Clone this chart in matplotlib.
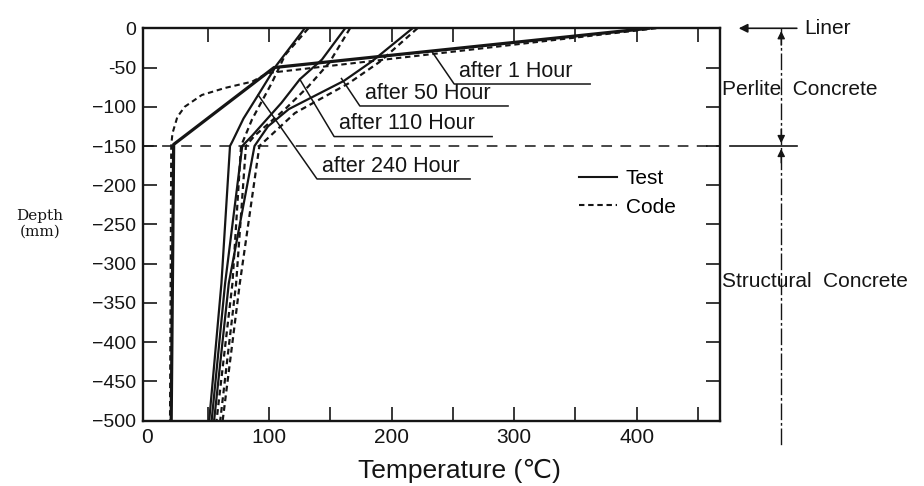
import matplotlib

matplotlib.use("Agg")
import matplotlib.pyplot as plt
from matplotlib.lines import Line2D

plt.rcParams["font.family"] = ["Liberation Sans", "DejaVu Sans"]

# ---- values: temperature (C) vs depth (mm) ----
depth_1h_test = [0, -50, -148, -500]
temp_1h_test = [410, 104, 22, 20]
depth_1h_code = [0, -57, -68, -76, -85, -100, -113, -134, -150, -500]
temp_1h_code = [416, 99, 86, 64, 45, 31, 25, 21, 20, 19]

depth_50h_test = [0, -42, -67, -103, -125, -150, -325, -500]
temp_50h_test = [217, 184, 161, 116, 99, 88, 67, 55]
depth_50h_code = [0, -43, -70, -108, -150, -325, -500]
temp_50h_code = [221, 190, 165, 121, 92, 76, 62]

depth_110h_test = [0, -40, -65, -95, -137, -150, -325, -500]
temp_110h_test = [162, 143, 125, 110, 86, 78, 64, 53]
depth_110h_code = [0, -44, -74, -103, -137, -150, -325, -500]
temp_110h_code = [166, 149, 132, 113, 88, 81, 73, 60]

depth_240h_test = [0, -47, -85, -115, -144, -150, -325, -500]
temp_240h_test = [129, 106, 91, 79, 70, 68, 61, 51]
depth_240h_code = [0, -34, -70, -116, -150, -325, -500]
temp_240h_code = [132, 113, 102, 86, 77, 70, 57]

layer_boundary = -150  # perlite / structural concrete interface

x_major = [0, 100, 200, 300, 400]
x_minor = [50, 150, 250, 350, 450]
y_ticks = [0, -50, -100, -150, -200, -250, -300, -350, -400, -450, -500]
y_labels = ["0", "-50", "\u2212100", "\u2212150", "\u2212200", "\u2212250",
            "\u2212300", "\u2212350", "\u2212400", "\u2212450", "\u2212500"]

# curve labels: text, point on curve, corner of leader, end of underline
curve_labels = [
    ("after 1 Hour", (233, -30), (251, -71), 362),
    ("after 50 Hour", (159, -64), (174, -99), 295),
    ("after 110 Hour", (125, -65), (153, -138), 282),
    ("after 240 Hour", (91, -85), (139, -192), 264),
]

INK = "#151515"
CODE_DASH = (0, (2.6, 1.8))

fig = plt.figure(figsize=(9.24, 4.86), dpi=100)
ax = fig.add_axes([0.1548, 0.1344, 0.6244, 0.8074])

ax.plot(temp_1h_test, depth_1h_test, color=INK, lw=2.3)
ax.plot(temp_1h_code, depth_1h_code, color=INK, lw=1.5, ls=CODE_DASH)
for t, d in [(temp_50h_test, depth_50h_test), (temp_110h_test, depth_110h_test),
             (temp_240h_test, depth_240h_test)]:
    ax.plot(t, d, color=INK, lw=1.6)
for t, d in [(temp_50h_code, depth_50h_code), (temp_110h_code, depth_110h_code),
             (temp_240h_code, depth_240h_code)]:
    ax.plot(t, d, color=INK, lw=1.6, ls=CODE_DASH)

ax.axhline(layer_boundary, color=INK, lw=1.1, ls=(0, (7, 5.5)))

ax.set_xlim(-3, 468)
ax.set_ylim(-500, 0)
ax.set_xticks(x_major)
ax.set_xticks(x_minor, minor=True)
ax.set_yticks(y_ticks)
ax.set_yticklabels(y_labels)
ax.tick_params(axis="both", which="both", direction="in", top=True, right=True,
               length=10, width=1.2, color=INK)
ax.tick_params(axis="x", labelsize=15, pad=5, labelcolor=INK)
ax.tick_params(axis="y", labelsize=14, pad=5, labelcolor=INK)
# no tick mark at 0 C (it sits right against the left spine)
first = ax.xaxis.get_major_ticks()[0]
first.tick1line.set_visible(False)
first.tick2line.set_visible(False)
for sp in ax.spines.values():
    sp.set_linewidth(1.7)
    sp.set_color(INK)

# curve labels with leader + underline
for text, target, corner, end_t in curve_labels:
    ax.plot([target[0], corner[0], end_t], [target[1], corner[1], corner[1]],
            color=INK, lw=1.1)
    ax.text(corner[0] + 4, corner[1] + 3, text, fontsize=15.5, color=INK,
            ha="left", va="bottom")

# legend
handles = [Line2D([], [], color=INK, lw=1.5),
           Line2D([], [], color=INK, lw=1.5, ls=CODE_DASH)]
ax.legend(handles, ["Test", "Code"], loc="center left",
          bbox_to_anchor=(0.755, 0.58), frameon=False, fontsize=15,
          handlelength=1.85, handletextpad=0.4, labelspacing=0.45,
          borderpad=0, borderaxespad=0)

# layer annotations on the right, outside the axes
x_bar = 518
ax.plot([x_bar, x_bar], [0, -533], color=INK, lw=1.0,
        ls=(0, (12, 2, 2, 2)), clip_on=False)
ax.plot([476, 531], [layer_boundary, layer_boundary], color=INK, lw=1.2,
        clip_on=False)
arrow = dict(arrowstyle="-|>", color=INK, lw=1.0, mutation_scale=11)
ax.annotate("", xy=(x_bar, 0), xytext=(x_bar, -25), arrowprops=arrow,
            annotation_clip=False)
ax.annotate("", xy=(x_bar, layer_boundary), xytext=(x_bar, layer_boundary + 25),
            arrowprops=arrow, annotation_clip=False)
ax.annotate("", xy=(x_bar, layer_boundary), xytext=(x_bar, layer_boundary - 25),
            arrowprops=arrow, annotation_clip=False)
ax.annotate("", xy=(481, 0), xytext=(533, 0),
            arrowprops=dict(arrowstyle="-|>", color=INK, lw=1.2,
                            mutation_scale=13), annotation_clip=False)
ax.text(537, 0, "Liner", fontsize=15, color=INK, ha="left", va="center",
        clip_on=False)
ax.text(470, -78, "Perlite  Concrete", fontsize=15, color=INK, ha="left",
        va="center", clip_on=False)
ax.text(470, -323, "Structural  Concrete", fontsize=15, color=INK, ha="left",
        va="center", clip_on=False)

# axis titles
fig.text(0.497, 0.032, "Temperature (\u2103)", fontsize=19, color=INK,
         ha="center", va="center")
fig.text(0.043, 0.539, "Depth\n(mm)", fontsize=11, color=INK, ha="center",
         va="center", family="DejaVu Serif", linespacing=1.1)

fig.savefig("out.png", dpi=100)
